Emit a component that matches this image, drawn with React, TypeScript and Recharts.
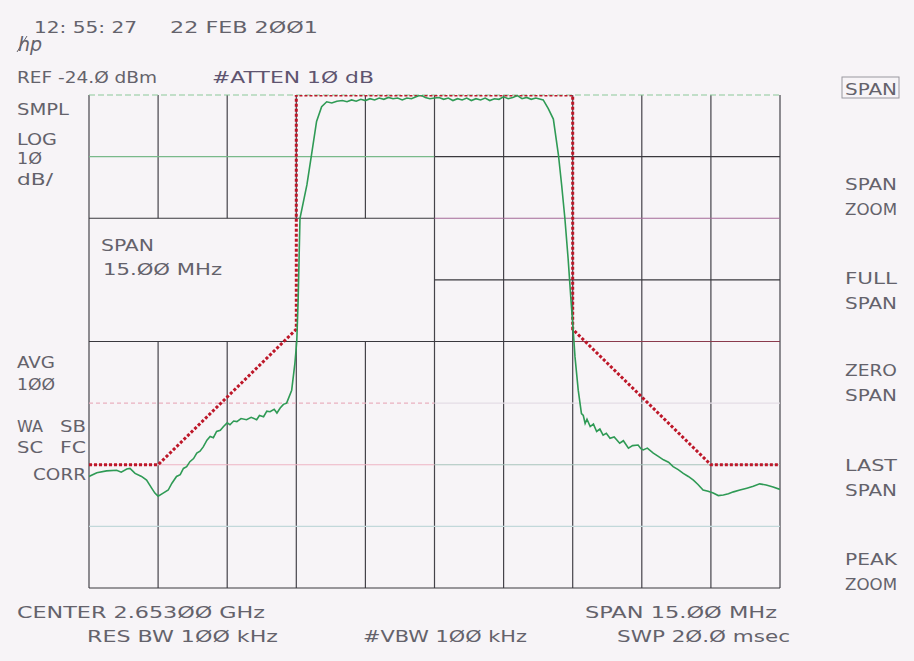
import { ComposedChart, Line, XAxis, YAxis, ReferenceLine } from 'recharts'

// analyzer settings
const CENTER_MHZ = 2653
const SPAN_MHZ = 15
const REF_DBM = -24
const DB_PER_DIV = 10
const X_DIVS = 10
const Y_DIVS = 8

const START = CENTER_MHZ - SPAN_MHZ / 2
const STOP = CENTER_MHZ + SPAN_MHZ / 2
const BOTTOM = REF_DBM - DB_PER_DIV * Y_DIVS

// measured trace (MHz, dBm)
const traceFreq = [
  2645.5, 2645.67, 2645.88, 2646.1, 2646.2, 2646.32, 2646.39, 2646.5, 2646.64, 2646.75, 2646.86,
  2646.93, 2647.0, 2647.11, 2647.22, 2647.3, 2647.4, 2647.48, 2647.55, 2647.62, 2647.69, 2647.77, 2647.84, 2647.91, 2647.98,
  2648.06, 2648.13, 2648.2, 2648.27, 2648.35, 2648.42, 2648.5, 2648.56, 2648.64, 2648.71, 2648.8, 2648.92, 2649.02,
  2649.14, 2649.2, 2649.29, 2649.36, 2649.43, 2649.52, 2649.58, 2649.65, 2649.72, 2649.79, 2649.9,
  2649.97, 2650.01, 2650.04, 2650.08, 2650.23, 2650.33, 2650.44, 2650.55, 2650.66, 2650.77, 2650.88,
  2651.0, 2651.1, 2651.2, 2651.3, 2651.4, 2651.5, 2651.6, 2651.7, 2651.8, 2651.9,
  2652.0, 2652.1, 2652.2, 2652.3, 2652.4, 2652.5, 2652.6, 2652.7, 2652.8, 2652.9,
  2653.0, 2653.1, 2653.2, 2653.3, 2653.4, 2653.5, 2653.6, 2653.7, 2653.8, 2653.9,
  2654.0, 2654.1, 2654.2, 2654.3, 2654.4, 2654.5, 2654.6, 2654.7, 2654.8, 2654.9,
  2655.0, 2655.1, 2655.2, 2655.36, 2655.47, 2655.58, 2655.69, 2655.76, 2655.83, 2655.9,
  2655.96, 2656.01, 2656.05, 2656.12, 2656.19, 2656.23, 2656.27, 2656.31, 2656.38, 2656.45,
  2656.52, 2656.59, 2656.66, 2656.73, 2656.81, 2656.9, 2657.02, 2657.1, 2657.21, 2657.3,
  2657.42, 2657.48, 2657.53, 2657.62, 2657.75, 2657.85, 2657.97, 2658.08, 2658.18, 2658.29,
  2658.4, 2658.51, 2658.62, 2658.72, 2658.83, 2658.94, 2659.05, 2659.16, 2659.27, 2659.38,
  2659.49, 2659.63, 2659.78, 2659.92, 2660.06, 2660.2, 2660.35, 2660.5,
]
const traceDbm = [
  -85.9, -85.3, -85.0, -84.9, -85.2, -84.7, -84.6, -85.4, -85.9, -86.5, -87.8,
  -88.6, -89.1, -88.6, -88.1, -87.0, -85.9, -85.6, -84.6, -84.3, -83.5, -83.0, -82.1, -81.8, -81.1,
  -80.0, -79.4, -79.6, -78.6, -78.4, -77.8, -77.2, -77.5, -76.9, -77.0, -76.5, -76.7, -76.3,
  -76.7, -76.0, -76.2, -75.3, -75.4, -75.0, -75.6, -74.8, -74.2, -74.0, -71.9,
  -67.5, -64.0, -57.3, -44.0, -38.6, -33.7, -28.3, -25.9, -25.1, -25.3, -25.0,
  -24.9, -25.1, -24.8, -25.0, -24.7, -24.9, -24.6, -24.8, -24.5, -24.7,
  -24.4, -24.6, -24.5, -24.8, -24.5, -24.6, -24.3, -24.0, -24.4, -24.6,
  -24.5, -24.4, -24.7, -24.5, -24.9, -24.6, -24.8, -24.5, -24.9, -24.6,
  -24.8, -24.5, -24.9, -24.6, -24.7, -24.3, -24.6, -24.4, -24.1, -24.6,
  -24.4, -24.7, -24.5, -24.8, -26.2, -27.9, -33.7, -38.6, -44.0, -50.5,
  -57.0, -62.1, -66.5, -71.9, -75.7, -76.0, -77.3, -76.6, -77.8, -77.4,
  -78.6, -78.2, -79.2, -78.9, -79.7, -79.5, -80.5, -80.1, -81.3, -80.9,
  -80.8, -81.4, -81.6, -81.3, -82.1, -82.6, -83.2, -83.6, -84.3, -84.8,
  -85.4, -85.9, -86.5, -87.2, -88.1, -88.3, -88.6, -89.0, -88.9, -88.7,
  -88.4, -88.1, -87.8, -87.5, -87.1, -87.3, -87.6, -88.0,
]

// limit mask (MHz, dBm)
const maskFreq = [2645.5, 2647, 2650, 2650, 2656, 2656, 2659, 2660.5]
const maskDbm = [-84, -84, -62, -24, -24, -62, -84, -84]

const trace = traceFreq.map((f, i) => ({ f, dbm: traceDbm[i] }))
const mask = maskFreq.map((f, i) => ({ f, dbm: maskDbm[i] }))

const xDiv = (i: number) => START + (SPAN_MHZ / X_DIVS) * i
const yDiv = (i: number) => REF_DBM - DB_PER_DIV * i

const INK = '#64626b'
const FONT = '"DejaVu Sans", sans-serif'

function T({ x, y, w, children, fill = INK }: { x: number; y: number; w: number; children: string; fill?: string }) {
  return (
    <text x={x} y={y} textLength={w} lengthAdjust="spacingAndGlyphs" fontSize={16.5} fontFamily={FONT} fill={fill}>
      {children}
    </text>
  )
}

function hSeg(dbm: number, from: number, to: number, color: string, dash?: string) {
  return (
    <ReferenceLine
      key={`h${dbm}-${from}`}
      segment={[{ x: from, y: dbm }, { x: to, y: dbm }]}
      stroke={color}
      strokeWidth={1.2}
      strokeDasharray={dash}
      ifOverflow="visible"
    />
  )
}

function vSeg(f: number, from: number, to: number) {
  return (
    <ReferenceLine
      key={`v${f}-${from}`}
      segment={[{ x: f, y: from }, { x: f, y: to }]}
      stroke="#45434a"
      strokeWidth={1.2}
      ifOverflow="visible"
    />
  )
}

export default function App() {
  const mid = xDiv(5)
  const boxTop = yDiv(2)
  const boxBottom = yDiv(4)

  const verticals = []
  for (let i = 0; i <= X_DIVS; i++) {
    const f = xDiv(i)
    if (i > 0 && i < 5) {
      verticals.push(vSeg(f, REF_DBM, boxTop))
      verticals.push(vSeg(f, boxBottom, BOTTOM))
    } else {
      verticals.push(vSeg(f, REF_DBM, BOTTOM))
    }
  }

  const horizontals = [
    hSeg(yDiv(0), START, STOP, '#8cc79a', '6 3'),
    hSeg(yDiv(1), START, mid, '#79b98a'),
    hSeg(yDiv(1), mid, STOP, '#3a383e'),
    hSeg(yDiv(2), START, mid, '#3a383e'),
    hSeg(yDiv(2), mid, STOP, '#a56a98'),
    hSeg(yDiv(3), mid, STOP, '#3a383e'),
    hSeg(yDiv(4), START, xDiv(7), '#3a383e'),
    hSeg(yDiv(4), xDiv(7), STOP, '#8a3a4c'),
    hSeg(yDiv(5), START, mid, '#eab0c0', '4 3'),
    hSeg(yDiv(5), mid, STOP, '#e4dde6'),
    hSeg(yDiv(6), START, mid, '#eeb4c4'),
    hSeg(yDiv(6), mid, STOP, '#a9c4bc'),
    hSeg(yDiv(7), START, STOP, '#c2d8da'),
    hSeg(yDiv(8), START, STOP, '#3a383e'),
  ]

  const softKeys = [
    ['SPAN ZOOM', 190],
    ['FULL SPAN', 284],
    ['ZERO SPAN', 376],
    ['LAST SPAN', 471],
    ['PEAK ZOOM', 565],
  ] as const

  return (
    <div style={{ position: 'relative', width: 914, height: 661, background: '#f7f4f7' }}>
      <style>{'body{margin:0}'}</style>
      <ComposedChart width={914} height={661} margin={{ top: 95, right: 134, bottom: 73, left: 89 }}>
        <XAxis dataKey="f" type="number" domain={[START, STOP]} allowDataOverflow hide />
        <YAxis type="number" domain={[BOTTOM, REF_DBM]} allowDataOverflow hide />
        {verticals}
        {horizontals}
        <Line
          data={mask}
          dataKey="dbm"
          type="linear"
          stroke="#bd1729"
          strokeWidth={3}
          strokeDasharray="3 2"
          dot={false}
          isAnimationActive={false}
        />
        <Line
          data={trace}
          dataKey="dbm"
          type="linear"
          stroke="#2f9a55"
          strokeWidth={1.6}
          dot={false}
          isAnimationActive={false}
        />
      </ComposedChart>

      <svg width={914} height={661} style={{ position: 'absolute', left: 0, top: 0, pointerEvents: 'none' }}>
        <T x={34} y={33} w={103}>12: 55: 27</T>
        <T x={170} y={33} w={148}>22 FEB 2ØØ1</T>
        <text x={18} y={51} fontSize={19} fontStyle="italic" fontFamily={FONT} fill={INK}>hp</text>
        <line x1={17} y1={52} x2={27} y2={36} stroke={INK} strokeWidth={1} />

        <T x={17} y={83} w={140}>REF -24.Ø dBm</T>
        <T x={212} y={83} w={162} fill="#5f5470">#ATTEN 1Ø dB</T>

        <T x={17} y={115} w={52}>SMPL</T>
        <T x={17} y={145} w={40}>LOG</T>
        <T x={17} y={164} w={25}>1Ø</T>
        <T x={17} y={185} w={36}>dB/</T>
        <T x={17} y={368} w={38}>AVG</T>
        <T x={17} y={390} w={38}>1ØØ</T>
        <T x={17} y={432} w={26}>WA</T>
        <T x={60} y={432} w={26}>SB</T>
        <T x={17} y={453} w={26}>SC</T>
        <T x={60} y={453} w={26}>FC</T>
        <T x={33} y={480} w={53}>CORR</T>

        <T x={101} y={251} w={53}>SPAN</T>
        <T x={103} y={275} w={119}>15.ØØ MHz</T>

        <T x={17} y={618} w={248}>CENTER 2.653ØØ GHz</T>
        <T x={585} y={618} w={192}>SPAN 15.ØØ MHz</T>
        <T x={87} y={642} w={191}>RES BW 1ØØ kHz</T>
        <T x={363} y={642} w={164}>#VBW 1ØØ kHz</T>
        <T x={617} y={642} w={173}>SWP 2Ø.Ø msec</T>

        <rect x={842} y={77} width={57} height={21} fill="none" stroke="#9a98a0" strokeWidth={1} />
        <T x={845} y={95} w={52}>SPAN</T>
        {softKeys.map(([label, y]) => {
          const [a, b] = label.split(' ')
          return (
            <g key={label}>
              <T x={845} y={y} w={52}>{a}</T>
              <T x={845} y={y + 25} w={52}>{b}</T>
            </g>
          )
        })}
      </svg>
    </div>
  )
}
